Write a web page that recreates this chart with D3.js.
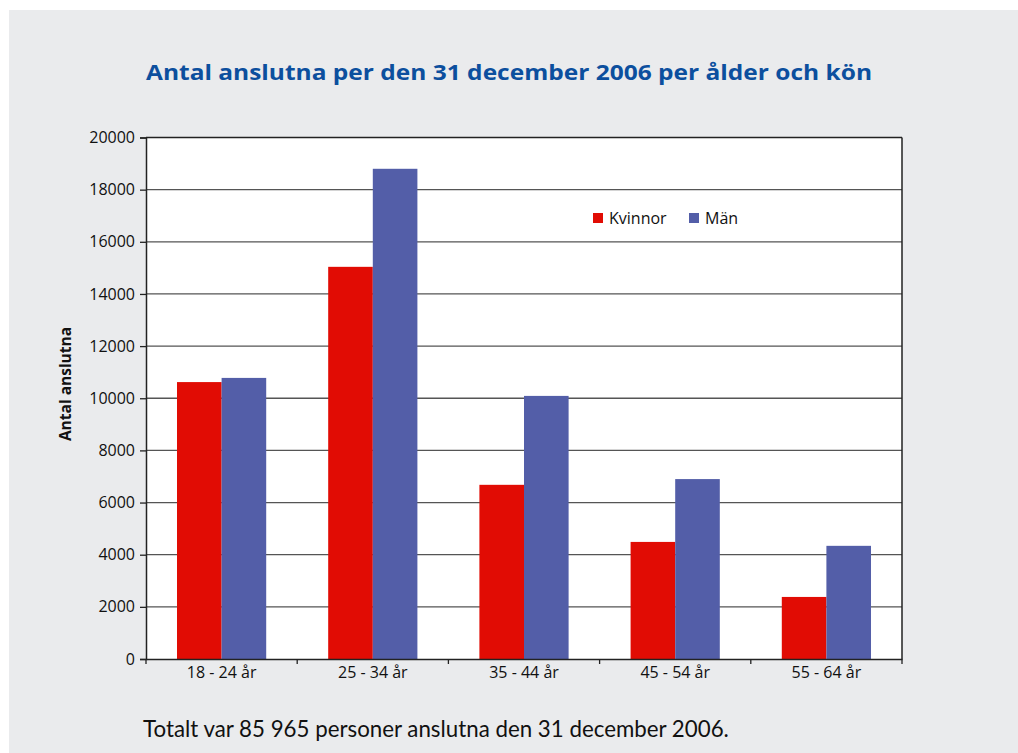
<!DOCTYPE html>
<html>
<head>
<meta charset="utf-8">
<script src="https://cdn.jsdelivr.net/npm/d3@7"></script>
<style>
  body { margin: 0; background: #ffffff; }
  svg { display: block; }
  .tick text { font-family: "Open Sans", "Noto Sans", sans-serif; font-size: 16px; fill: #111; }
</style>
</head>
<body>
<div id="chart"></div>
<script>
// chart values
var categories = ["18 - 24 år", "25 - 34 år", "35 - 44 år", "45 - 54 år", "55 - 64 år"];
var seriesNames = ["Kvinnor", "Män"];
var kvinnor = [10620, 15040, 6680, 4490, 2380];
var man = [10780, 18800, 10090, 6900, 4340];
var yTicks = [0, 2000, 4000, 6000, 8000, 10000, 12000, 14000, 16000, 18000, 20000];
var colors = ["#e10c04", "#535ea8"];

var width = 1018, height = 753;
var margin = {top: 137.5, right: 116, bottom: 94, left: 146};
var plotW = width - margin.left - margin.right;
var plotH = height - margin.top - margin.bottom;

var svg = d3.select("#chart").append("svg")
    .attr("width", width)
    .attr("height", height);

// grey panel
svg.append("rect")
    .attr("x", 9).attr("y", 10)
    .attr("width", width - 9).attr("height", height - 10)
    .attr("fill", "#eaebed");

// title
svg.append("text")
    .attr("x", 146).attr("y", 80)
    .attr("font-family", "'Open Sans', Lato, sans-serif")
    .attr("font-weight", "bold")
    .attr("font-size", 22)
    .attr("fill", "#0c4f9e")
    .attr("textLength", 726)
    .attr("lengthAdjust", "spacingAndGlyphs")
    .text("Antal anslutna per den 31 december 2006 per ålder och kön");

var g = svg.append("g")
    .attr("transform", "translate(" + margin.left + "," + margin.top + ")");

g.append("rect")
    .attr("width", plotW).attr("height", plotH)
    .attr("fill", "#ffffff");

var x0 = d3.scaleBand().domain(categories).range([0, plotW]).paddingInner(0.41).paddingOuter(0.205);
var x1 = d3.scaleBand().domain(seriesNames).range([0, x0.bandwidth()]);
var y = d3.scaleLinear().domain([0, 20000]).range([plotH, 0]);

// gridlines
g.selectAll(".grid").data(yTicks.slice(1))
    .enter().append("line")
    .attr("class", "grid")
    .attr("x1", 0).attr("x2", plotW)
    .attr("y1", function(d) { return y(d); })
    .attr("y2", function(d) { return y(d); })
    .attr("stroke", function(d) { return d == 20000 ? "#222" : "#555"; })
    .attr("stroke-width", 1.3);

// bars
var data = categories.map(function(c, i) {
    return {cat: c, vals: [{s: seriesNames[0], v: kvinnor[i]}, {s: seriesNames[1], v: man[i]}]};
});
var groups = g.selectAll(".grp").data(data).enter().append("g")
    .attr("transform", function(d) { return "translate(" + x0(d.cat) + ",0)"; });
groups.selectAll("rect").data(function(d) { return d.vals; })
    .enter().append("rect")
    .attr("x", function(d) { return x1(d.s); })
    .attr("width", x1.bandwidth())
    .attr("y", function(d) { return y(d.v); })
    .attr("height", function(d) { return plotH - y(d.v); })
    .attr("fill", function(d, i) { return colors[i]; });

// right border
g.append("line")
    .attr("x1", plotW).attr("x2", plotW)
    .attr("y1", 0).attr("y2", plotH)
    .attr("stroke", "#222").attr("stroke-width", 1.5);

// y axis
var yAxis = g.append("g")
    .call(d3.axisLeft(y).tickValues(yTicks).tickSize(6).tickPadding(5).tickFormat(d3.format("d")));
yAxis.select(".domain").attr("stroke", "#222").attr("stroke-width", 1.5);
yAxis.selectAll(".tick line").attr("stroke", "#222").attr("stroke-width", 1.3);

// x axis with ticks at category boundaries
var xAxis = g.append("g")
    .attr("transform", "translate(0," + plotH + ")")
    .call(d3.axisBottom(x0).tickSize(0).tickPadding(8));
xAxis.select(".domain").attr("stroke", "#222").attr("stroke-width", 1.5);
var step = x0.step();
xAxis.selectAll(".bound").data(d3.range(categories.length + 1))
    .enter().append("line")
    .attr("x1", function(i) { return i * step; })
    .attr("x2", function(i) { return i * step; })
    .attr("y1", 0).attr("y2", 5)
    .attr("stroke", "#222").attr("stroke-width", 1.3);

// y label
svg.append("text")
    .attr("transform", "translate(71,384) rotate(-90)")
    .attr("text-anchor", "middle")
    .attr("font-family", "'Open Sans', 'Noto Sans', sans-serif")
    .attr("font-weight", "bold")
    .attr("font-size", 15.5)
    .attr("fill", "#111")
    .text("Antal anslutna");

// legend
var legend = svg.append("g").attr("transform", "translate(593,213)");
var legX = [0, 96];
seriesNames.forEach(function(name, i) {
    legend.append("rect")
        .attr("x", legX[i]).attr("y", 0)
        .attr("width", 10).attr("height", 10)
        .attr("fill", colors[i]);
    legend.append("text")
        .attr("x", legX[i] + 16).attr("y", 11)
        .attr("font-family", "'Open Sans', 'Noto Sans', sans-serif")
        .attr("font-size", 16)
        .attr("fill", "#111")
        .text(name);
});

// footer
svg.append("text")
    .attr("x", 143).attr("y", 737)
    .attr("font-family", "Lato, 'Open Sans', sans-serif")
    .attr("font-size", 22.3)
    .attr("fill", "#111")
    .text("Totalt var 85 965 personer anslutna den 31 december 2006.");
</script>
</body>
</html>
